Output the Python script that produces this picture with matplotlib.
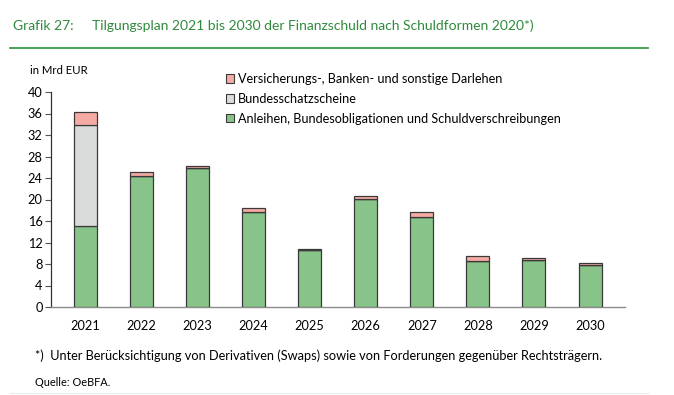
import matplotlib.pyplot as plt
from matplotlib.patches import Rectangle
from matplotlib.lines import Line2D

plt.rcParams["font.family"] = ["Lato", "DejaVu Sans"]

years = ["2021", "2022", "2023", "2024", "2025", "2026", "2027", "2028", "2029", "2030"]
anleihen = [15.0, 24.4, 25.9, 17.7, 10.6, 20.1, 16.7, 8.6, 8.7, 7.9]
bundesschatz = [18.9, 0.0, 0.0, 0.0, 0.0, 0.0, 0.0, 0.0, 0.0, 0.0]
darlehen = [2.4, 0.7, 0.3, 0.7, 0.15, 0.5, 1.0, 0.8, 0.4, 0.3]
yticks = list(range(0, 41, 4))

GREEN = "#88c48a"
GREY = "#d9dcda"
PINK = "#f5aba3"
EDGE = "#3a3a3a"
TITLE_GREEN = "#2f8a3c"

W, H = 674, 395
fig = plt.figure(figsize=(W / 100, H / 100), dpi=100)
ax = fig.add_axes([51 / W, 1 - 307 / H, 574 / W, 215 / H])

x = range(len(years))
w = 0.41
bot2 = [a + b for a, b in zip(anleihen, bundesschatz)]
ax.bar(x, anleihen, w, color=GREEN, edgecolor=EDGE, lw=0.9, zorder=3)
ax.bar(x, bundesschatz, w, bottom=anleihen, color=GREY, edgecolor=EDGE, lw=0.9, zorder=3)
ax.bar(x, darlehen, w, bottom=bot2, color=PINK, edgecolor=EDGE, lw=0.9, zorder=3)

ax.set_xlim(-0.615, 9.624)
ax.set_ylim(0, 40)
ax.set_yticks(yticks)
ax.set_xticks(list(x))
ax.set_xticklabels(years, fontsize=9.2)
ax.tick_params(axis="y", labelsize=9.2, length=4, width=0.8, color="#555555", pad=2)
ax.tick_params(axis="x", length=0, pad=9)
for s in ["top", "right"]:
    ax.spines[s].set_visible(False)
ax.spines["left"].set_color("#333333")
ax.spines["left"].set_linewidth(0.9)
ax.spines["bottom"].set_color("#8a8a8a")
ax.spines["bottom"].set_linewidth(1.0)

handles = [Rectangle((0, 0), 1, 1, fc=c, ec=EDGE, lw=0.8) for c in (PINK, GREY, GREEN)]
labels = ["Versicherungs-, Banken- und sonstige Darlehen",
          "Bundesschatzscheine",
          "Anleihen, Bundesobligationen und Schuldverschreibungen"]
ax.legend(handles, labels, loc="upper left",
          bbox_to_anchor=((226 - 51) / 574, (307 - 73) / 215),
          frameon=False, fontsize=9.1, handlelength=0.65, handleheight=0.65,
          handletextpad=0.3, labelspacing=0.62, borderaxespad=0, borderpad=0)

fig.text(13 / W, 1 - 26 / H, "Grafik 27:", color=TITLE_GREEN, fontsize=10, va="center")
fig.text(92 / W, 1 - 26 / H,
         "Tilgungsplan 2021 bis 2030 der Finanzschuld nach Schuldformen 2020*)",
         color=TITLE_GREEN, fontsize=10, va="center")
fig.add_artist(Line2D([10 / W, 648 / W], [1 - 48 / H] * 2, color="#3d9a4c", lw=1.3))
fig.text(30 / W, 1 - 71 / H, "in Mrd EUR", fontsize=8.2, va="center")
fig.text(35 / W, 1 - 356 / H,
         "*)  Unter Berücksichtigung von Derivativen (Swaps) sowie von Forderungen gegenüber Rechtsträgern.",
         fontsize=9.2, va="center")
fig.text(35 / W, 1 - 383 / H, "Quelle: OeBFA.", fontsize=7.9, va="center")
fig.add_artist(Line2D([10 / W, 649 / W], [1 - 393 / H] * 2, color="#e3eeea", lw=0.8))

fig.savefig("out.png", dpi=100)
